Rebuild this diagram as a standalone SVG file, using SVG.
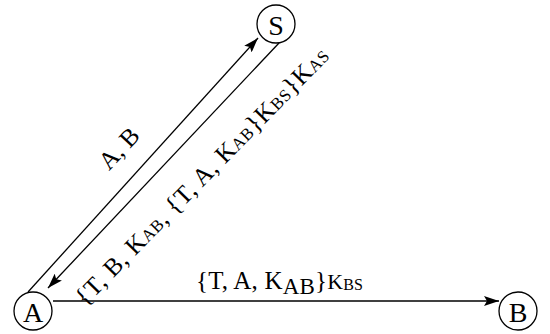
<svg xmlns="http://www.w3.org/2000/svg" width="550" height="334" viewBox="0 0 550 334">
<defs>
<style>
.node{fill:#fff;stroke:#000;stroke-width:1.3}
.nl{font-family:"Liberation Serif","Times New Roman",serif;font-size:28px;fill:#000;text-anchor:middle;dominant-baseline:central}
.edge{stroke:#000;stroke-width:1.3;fill:none}
.lbl{font-family:"Liberation Serif","Times New Roman",serif;font-size:25px;fill:#000}
.sm{font-size:17px}
</style>
<marker id="arr" markerWidth="16" markerHeight="10" refX="15" refY="5" orient="auto" markerUnits="userSpaceOnUse">
<path d="M0,0 L15,5 L0,10 L3,5 Z" fill="#000"/>
</marker>
</defs>
<g id="connectors">
<line class="edge" x1="28" y1="292" x2="258" y2="38" marker-end="url(#arr)"/>
<line class="edge" x1="279" y1="43" x2="48" y2="288" marker-end="url(#arr)"/>
<line class="edge" x1="53" y1="301" x2="499" y2="301" marker-end="url(#arr)"/>
</g>
<g id="node-S"><circle class="node" cx="276" cy="24" r="19"/><text class="nl" x="276" y="25">S</text></g>
<g id="node-A"><circle class="node" cx="33" cy="311" r="19"/><text class="nl" x="33" y="312">A</text></g>
<g id="node-B"><circle class="node" cx="518" cy="311" r="19"/><text class="nl" x="518" y="312">B</text></g>
<g id="labels">
<text class="lbl" transform="translate(125,154) rotate(-47)" text-anchor="middle">A, B</text>
<text class="lbl" transform="translate(85,307) rotate(-45.5)" textLength="350" lengthAdjust="spacing">{T, B, K<tspan class="sm">AB</tspan>, {T, A, K<tspan class="sm">AB</tspan>}K<tspan class="sm">BS</tspan>}K<tspan class="sm">AS</tspan></text>
<text class="lbl" x="196" y="288.5" textLength="167" lengthAdjust="spacing">{T, A, K<tspan font-size="23" dy="5">AB</tspan><tspan dy="-5">}</tspan><tspan font-size="22">K</tspan><tspan font-size="16" dy="1.5">BS</tspan></text>
</g>
</svg>
